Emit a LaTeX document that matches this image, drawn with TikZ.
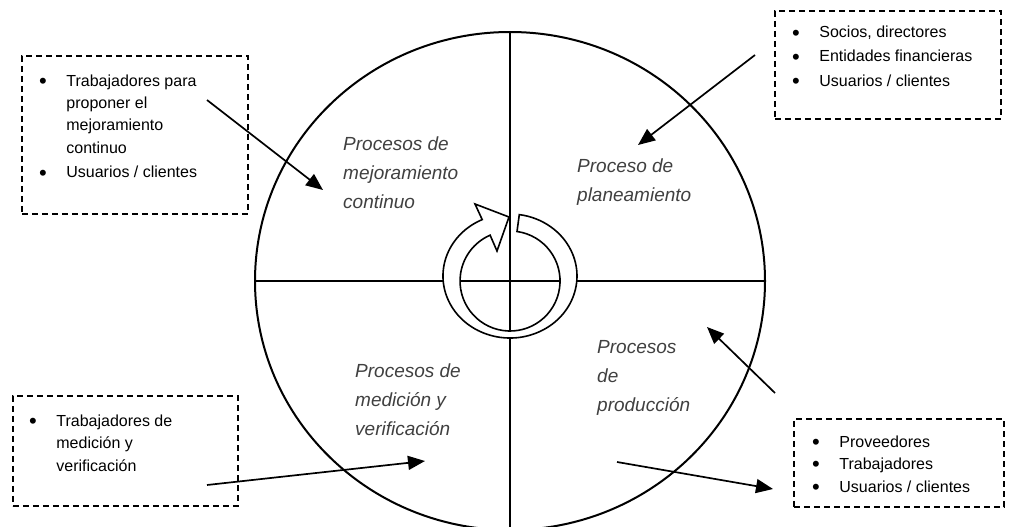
\documentclass[tikz,border=0pt]{standalone}
\usepackage{fontspec}
\setmainfont{Liberation Sans}
\usetikzlibrary{arrows.meta}
\newcommand{\bul}{\raisebox{-2.4pt}{\fontsize{22}{22}\selectfont\textbullet}}
\begin{document}
\begin{tikzpicture}[x=1pt,y=-1pt,
  lw/.style={line width=2pt},
  dbox/.style={draw, line width=1.8pt, dash pattern=on 6pt off 4pt, anchor=north west, inner sep=0pt},
  listtxt/.style={anchor=base west, inner sep=0pt, font=\fontsize{16}{22.5}\selectfont},
  lab/.style={anchor=base west, inner sep=0pt, font=\fontsize{19}{29}\selectfont\itshape, text=black!75},
  conn/.style={line width=1.7pt, -{Triangle[length=17pt,width=14pt]}},
]
\useasboundingbox (0,0) rectangle (1018,527);
% main circle and axes
\coordinate (c) at (510,281);
\coordinate (vt) at (510,32);
\coordinate (vb) at (510,527);
\coordinate (hl) at (255,281);
\coordinate (hr) at (765,281);
\draw[lw] (c) ellipse [x radius=255, y radius=249];
\draw[lw] (vt) -- (vb);
\draw[lw] (hl) -- (hr);
% circular arrow
\draw[line width=1.6pt, fill=white] (509,217) -- (475,204) -- (482.2,219.6)
  arc[start angle=245.5, end angle=-82, x radius=67, y radius=62]
  -- (517,231.5) arc[start angle=-82, end angle=246.5, radius=50]
  -- (497,251) -- cycle;
% dashed boxes
\node[dbox, minimum width=226pt, minimum height=158pt] (b1) at (21,55) {};
\node[dbox, minimum width=226pt, minimum height=108pt] (b2) at (774,10) {};
\node[dbox, minimum width=225pt, minimum height=110pt] (b3) at (12,395) {};
\node[dbox, minimum width=210pt, minimum height=88pt] (b4) at (793,418) {};
% box texts
\node[listtxt] (t1) at (39,86) {\begin{tabular}[t]{@{}l@{\hspace{19.5pt}}l@{}}\bul & Trabajadores para\\ & proponer el\\ & mejoramiento\\ & continuo\\[2pt] \bul & Usuarios / clientes\end{tabular}};
\node[listtxt] (t2) at (792,38) {\begin{tabular}[t]{@{}l@{\hspace{19.5pt}}l@{}}\bul & Socios, directores\\[1.5pt] \bul & Entidades financieras\\[1.5pt] \bul & Usuarios / clientes\end{tabular}};
\node[listtxt] (t3) at (29,426) {\begin{tabular}[t]{@{}l@{\hspace{19.5pt}}l@{}}\bul & Trabajadores de\\ & medición y\\ & verificación\end{tabular}};
\node[listtxt] (t4) at (812,447) {\begin{tabular}[t]{@{}l@{\hspace{19.5pt}}l@{}}\bul & Proveedores\\ \bul & Trabajadores\\ \bul & Usuarios / clientes\end{tabular}};
% quadrant labels
\node[lab] (l1) at (343,150) {\begin{tabular}[t]{@{}l@{}}Procesos de\\mejoramiento\\continuo\end{tabular}};
\node[lab] (l2) at (577,172) {\begin{tabular}[t]{@{}l@{}}Proceso de\\planeamiento\end{tabular}};
\node[lab] (l3) at (597,353) {\begin{tabular}[t]{@{}l@{}}Procesos\\de\\producción\end{tabular}};
\node[lab] (l4) at (355,377) {\begin{tabular}[t]{@{}l@{}}Procesos de\\medición y\\verificación\end{tabular}};
% connectors
\coordinate (a1s) at (207,100); \coordinate (a1e) at (323,190);
\coordinate (a2s) at (755,55);  \coordinate (a2e) at (638,145);
\coordinate (a3s) at (775,393); \coordinate (a3e) at (707,327);
\coordinate (a4s) at (617,462); \coordinate (a4e) at (773,489);
\coordinate (a5s) at (207,485); \coordinate (a5e) at (425,461);
\draw[conn] (a1s) -- (a1e);
\draw[conn] (a2s) -- (a2e);
\draw[conn] (a3s) -- (a3e);
\draw[conn] (a4s) -- (a4e);
\draw[conn] (a5s) -- (a5e);
\end{tikzpicture}
\end{document}
